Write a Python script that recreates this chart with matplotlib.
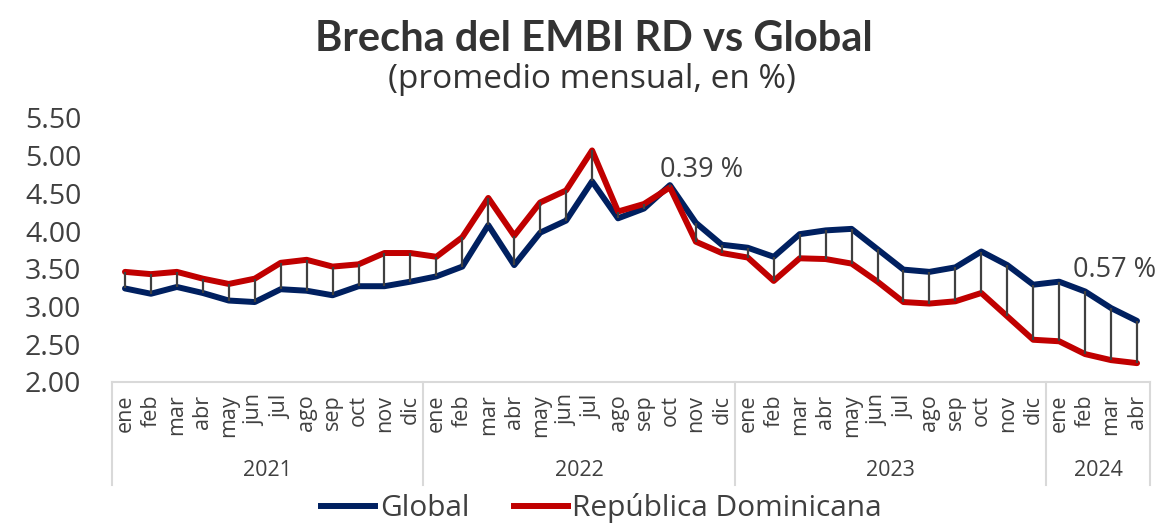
import matplotlib
matplotlib.use('Agg')
import matplotlib.pyplot as plt
from matplotlib.lines import Line2D
from matplotlib.transforms import blended_transform_factory

# Datos (promedio mensual, en %)
meses = ['ene', 'feb', 'mar', 'abr', 'may', 'jun', 'jul', 'ago', 'sep', 'oct', 'nov', 'dic'] * 3 + \
        ['ene', 'feb', 'mar', 'abr']
anios = ['2021', '2022', '2023', '2024']
meses_por_anio = [12, 12, 12, 4]

global_embi = [3.24, 3.17, 3.26, 3.18, 3.08, 3.06, 3.23, 3.21, 3.15, 3.27, 3.27, 3.33,
               3.40, 3.53, 4.08, 3.55, 3.98, 4.14, 4.66, 4.17, 4.30, 4.61, 4.11, 3.82,
               3.78, 3.66, 3.96, 4.01, 4.03, 3.76, 3.49, 3.46, 3.52, 3.73, 3.55, 3.29,
               3.33, 3.20, 2.98, 2.81]
rd_embi = [3.46, 3.43, 3.46, 3.37, 3.30, 3.37, 3.58, 3.62, 3.53, 3.56, 3.71, 3.71,
           3.66, 3.92, 4.44, 3.94, 4.38, 4.54, 5.07, 4.26, 4.36, 4.58, 3.86, 3.71,
           3.65, 3.34, 3.64, 3.63, 3.57, 3.33, 3.06, 3.04, 3.07, 3.18, 2.87, 2.56,
           2.54, 2.37, 2.29, 2.25]

yticks = [2.0, 2.5, 3.0, 3.5, 4.0, 4.5, 5.0, 5.5]

color_global = '#002060'
color_rd = '#C00000'
gris = '#404040'

plt.rcParams['font.family'] = 'Open Sans'

fig = plt.figure(figsize=(11.57, 5.27), dpi=100)
ax = fig.add_axes([112 / 1157, 1 - 382 / 527, (1150 - 112) / 1157, (382 - 118) / 527])

x = list(range(len(meses)))

# lineas verticales entre series
ax.vlines(x, [min(a, b) for a, b in zip(global_embi, rd_embi)],
          [max(a, b) for a, b in zip(global_embi, rd_embi)],
          color=gris, lw=1.6, zorder=4)

ax.plot(x, global_embi, color=color_global, lw=4.3, solid_capstyle='round', zorder=2)
ax.plot(x, rd_embi, color=color_rd, lw=4.3, solid_capstyle='round', zorder=3)

ax.set_xlim(-0.5, len(meses) - 0.5)
ax.set_ylim(2.0, 5.5)
ax.set_yticks(yticks)
ax.set_yticklabels([f'{v:.2f}' for v in yticks], fontsize=20.5, color=gris)
ax.set_xticks(x)
ax.set_xticklabels(meses, rotation=90, fontsize=15.5, color=gris)
ax.tick_params(axis='both', length=0)
ax.tick_params(axis='x', pad=9)
ax.tick_params(axis='y', pad=22)

for s in ['top', 'right', 'left']:
    ax.spines[s].set_visible(False)
ax.spines['bottom'].set_color('#d9d9d9')
ax.spines['bottom'].set_linewidth(1.5)

# separadores de anios y etiquetas
trans = blended_transform_factory(ax.transData, ax.transAxes)
bordes = [-0.5]
for n in meses_por_anio:
    bordes.append(bordes[-1] + n)
for b in bordes:
    ax.add_line(Line2D([b, b], [0, -0.39], transform=trans, color='#d9d9d9',
                       lw=1.5, clip_on=False))
for i, anio in enumerate(anios):
    centro = (bordes[i] + bordes[i + 1]) / 2
    ax.text(centro, -0.335, anio, transform=trans, ha='center', va='center',
            fontsize=15.5, color=gris)

# anotaciones de brecha
ax.text(22.2, 4.81, '0.39 %', ha='center', va='center', fontsize=19.5, color=gris)
ax.text(38.15, 3.48, '0.57 %', ha='center', va='center', fontsize=19.5, color=gris)

# titulo
fig.text(0.513, 1 - 39 / 527, 'Brecha del EMBI RD vs Global', ha='center', va='center',
         fontsize=30, fontweight='bold', color='#333333', family='Lato')
fig.text(0.512, 1 - 79 / 527, '(promedio mensual, en %)', ha='center', va='center',
         fontsize=24, color='#333333')

handles = [Line2D([], [], color=color_global, lw=4.3),
           Line2D([], [], color=color_rd, lw=4.3)]
fig.legend(handles, ['Global', 'República Dominicana'], loc='center',
           bbox_to_anchor=(0.52, 1 - 508 / 527), ncol=2, frameon=False,
           fontsize=21.5, handlelength=1.8, handletextpad=0.15, columnspacing=1.5,
           labelcolor=gris, borderpad=0.1)

fig.savefig('out.png', dpi=100)
